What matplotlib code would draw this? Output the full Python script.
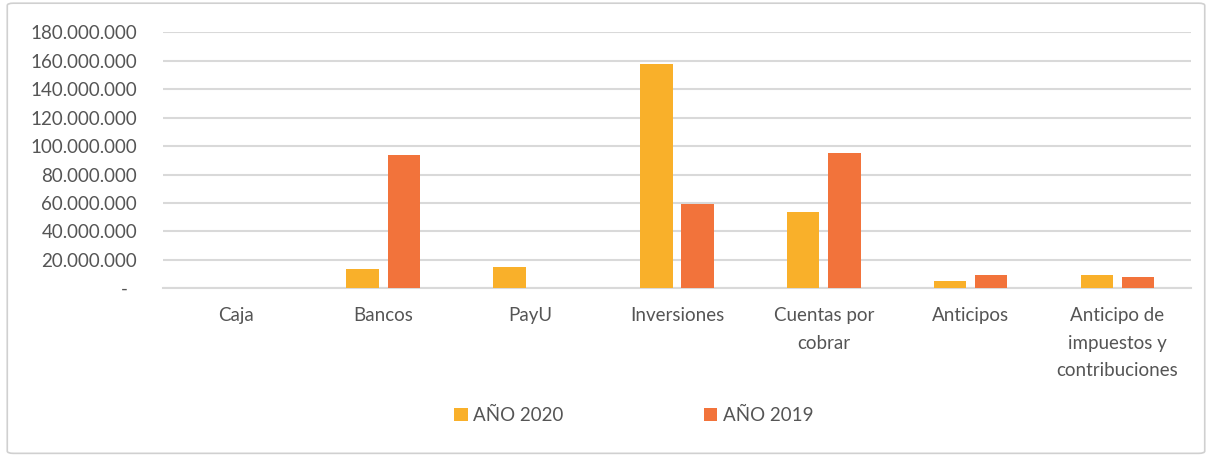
import matplotlib.pyplot as plt
import numpy as np
from matplotlib.ticker import FuncFormatter
from matplotlib.patches import FancyBboxPatch

plt.rcParams['font.family'] = ['Lato', 'DejaVu Sans']

# Data
categorias = ["Caja", "Bancos", "PayU", "Inversiones", "Cuentas por\ncobrar",
              "Anticipos", "Anticipo de\nimpuestos y\ncontribuciones"]
anio_2020 = [0, 13600000, 15200000, 157700000, 53600000, 5100000, 9600000]
anio_2019 = [0, 93500000, 0, 59500000, 94900000, 9600000, 7900000]

color_2020 = '#F9B02A'
color_2019 = '#F2733B'
text_color = '#555555'
grid_color = '#D9D9D9'

fig = plt.figure(figsize=(12.12, 4.57), dpi=100)
ax = fig.add_axes([0.1345, 0.369, 0.848, 0.560])

x = np.arange(len(categorias))
w = 0.222
off = 0.14
ax.bar(x - off, anio_2020, w, color=color_2020, label='AÑO 2020', zorder=3)
ax.bar(x + off, anio_2019, w, color=color_2019, label='AÑO 2019', zorder=3)

ax.set_xlim(-0.5, len(categorias) - 0.5)
ax.set_ylim(0, 180000000)
ax.set_yticks(np.arange(0, 180000001, 20000000))


def fmt(v, pos):
    if v == 0:
        return '-  '
    return f"{int(v):,}".replace(',', '.')


ax.yaxis.set_major_formatter(FuncFormatter(fmt))
ax.grid(axis='y', color=grid_color, linewidth=1.5, zorder=0)
for s in ['top', 'right', 'left']:
    ax.spines[s].set_visible(False)
ax.spines['bottom'].set_color(grid_color)
ax.spines['bottom'].set_linewidth(1.5)
ax.tick_params(axis='both', length=0, colors=text_color, labelsize=13.5)
ax.tick_params(axis='y', pad=18.7)
ax.tick_params(axis='x', pad=13.5)
ax.set_xticks(x)
ax.set_xticklabels(categorias, linespacing=1.75)

leg = fig.legend(loc='center', bbox_to_anchor=(0.523, 0.091), ncol=2, frameon=False,
                 fontsize=13.5, handlelength=0.7, handleheight=0.7, handletextpad=0.3,
                 columnspacing=7.5)
for t in leg.get_texts():
    t.set_color(text_color)

border = FancyBboxPatch((0.006, 0.008), 0.988, 0.985, boxstyle='round,pad=0,rounding_size=0.005',
                        transform=fig.transFigure, fill=False, edgecolor='#D0D0D0', linewidth=1.2)
fig.patches.append(border)

plt.savefig('out.png', dpi=100)
